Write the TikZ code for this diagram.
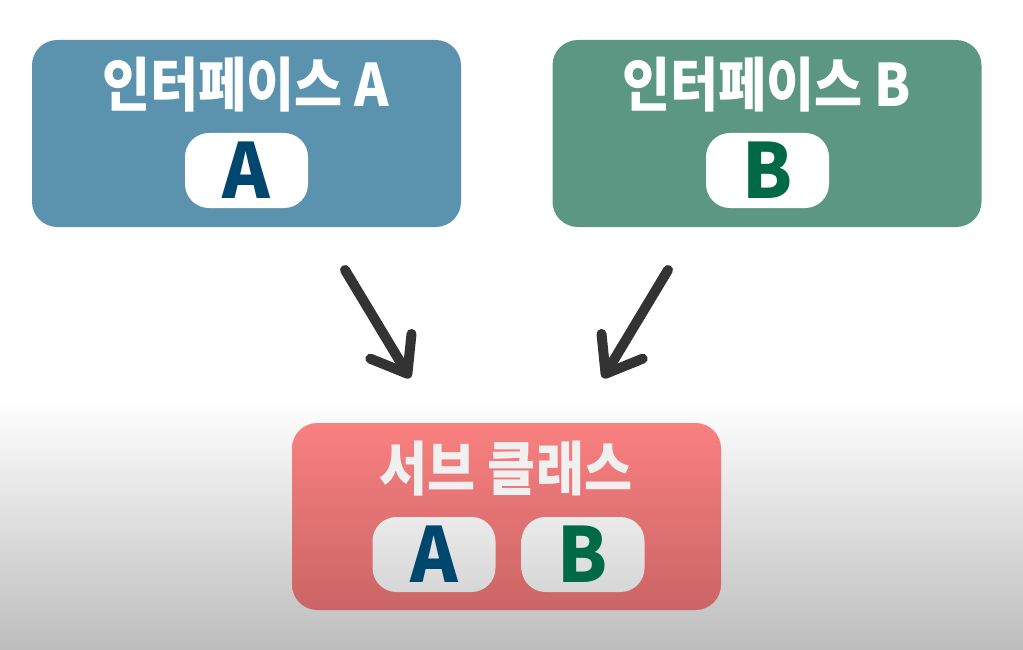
\documentclass[tikz,border=0pt]{standalone}
\usepackage{fontspec}
\newfontfamily\kr{Noto Sans CJK KR}
\usetikzlibrary{arrows.meta}
\definecolor{boxA}{HTML}{5B93AE}
\definecolor{boxB}{HTML}{5B9783}
\definecolor{subTop}{HTML}{F98080}
\definecolor{subBot}{HTML}{CB6565}
\definecolor{letA}{HTML}{00476F}
\definecolor{letB}{HTML}{006A47}
\definecolor{arrowc}{HTML}{333333}
\definecolor{bgBot}{HTML}{BDBDBD}
\tikzset{
  card/.style={rounded corners=19pt, minimum width=321.75pt, minimum height=140.25pt, inner sep=0pt},
  pill/.style={rounded corners=18pt, minimum width=92.25pt, minimum height=56.25pt, inner sep=0pt},
  title/.style={font=\kr\bfseries\fontsize{44}{44}\selectfont, xscale=0.89, inner sep=0pt},
  letter/.style={font=\kr\bfseries\fontsize{57}{57}\selectfont, xscale=0.95, inner sep=0pt},
  flow/.style={draw=arrowc, line width=7.5pt, line cap=round, line join=round,
    -{Straight Barb[length=24pt, width=36pt, round]}}
}
\begin{document}
\begin{tikzpicture}[x=0.75pt, y=-0.75pt]
\useasboundingbox (0,0) rectangle (1023,649);
\fill[white] (0,0) rectangle (1023,400);
\shade[top color=white, bottom color=bgBot] (0,399) rectangle (1023,649);
% cards
\node[card, fill=boxA] (ia) at (246.5,133.5) {};
\node[card, fill=boxB] (ib) at (767,133.5) {};
\node[card, top color=subTop, bottom color=subBot] (sub) at (506.5,516.5) {};
% titles
\node[title, text=white] (ta) at (246,85) {인터페이스 A};
\node[title, text=white] (tb) at (767,85) {인터페이스 B};
\node[title, text=white!94!black] (ts) at (506,469) {서브 클래스};
% pills
\node[pill, fill=white] (pa) at (246.5,170.5) {};
\node[pill, fill=white] (pb) at (767.5,170.5) {};
\node[pill, top color=white!92!black, bottom color=white!84!black] (spa) at (434,554.5) {};
\node[pill, top color=white!92!black, bottom color=white!84!black] (spb) at (583,554.5) {};
\node[letter, text=letA] at (pa) {A};
\node[letter, text=letB] at (pb) {B};
\node[letter, text=letA] at (spa) {A};
\node[letter, text=letB] at (spb) {B};
% arrows
\coordinate (a1) at (345,270);
\coordinate (a2) at (410,378);
\coordinate (b1) at (668,270);
\coordinate (b2) at (603,378);
\draw[flow] (a1) -- (a2);
\draw[flow] (b1) -- (b2);
\end{tikzpicture}
\end{document}
